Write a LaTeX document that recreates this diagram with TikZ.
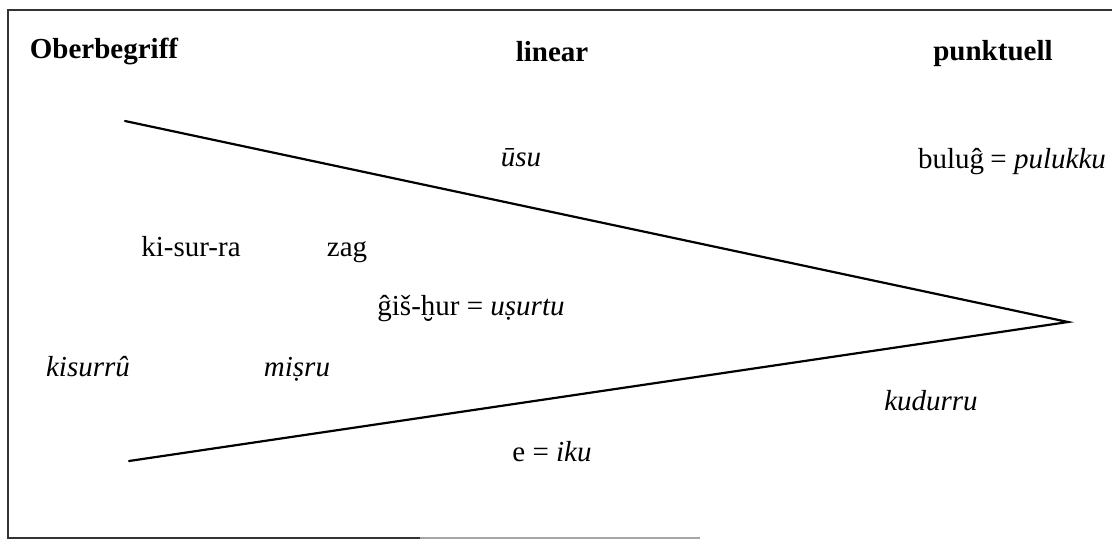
\documentclass[tikz,border=0pt]{standalone}
\usepackage{fontspec}
\setmainfont{Liberation Serif}
\begin{document}
\begin{tikzpicture}[x=1pt,y=-1pt,
  lbl/.style={inner sep=0pt, anchor=base, font=\fontsize{29}{34}\selectfont},
  head/.style={lbl, font=\fontsize{29}{34}\selectfont\bfseries},
  edge/.style={line width=2.2pt, line cap=round}]
\useasboundingbox (0,0) rectangle (1112,544);
% frame
\coordinate (fTL) at (8,10);
\coordinate (fTR) at (1112,10);
\coordinate (fBL) at (8,538);
\coordinate (fBM) at (420,538);
\coordinate (fBR) at (700,538);
\draw[line width=1.6pt, black!80] (fTR) -- (fTL) -- (fBL) -- (fBM);
\draw[line width=1.4pt, black!35] (fBM) -- (fBR);
% wedge
\coordinate (apex) at (1068,322);
\coordinate (up) at (125,121);
\coordinate (lo) at (129,461);
\draw[edge] (up) -- (apex) -- (lo);
% headings
\node[head] (ober) at (104,58) {Oberbegriff};
\node[head] (lin) at (552,61) {linear};
\node[head] (punkt) at (993,60) {punktuell};
% labels
\node[lbl] (usu) at (521,166) {\itshape ūsu};
\node[lbl] (bul) at (1012,168) {buluĝ\kern-1pt{} = \textit{pulukku}};
\node[lbl] (ki) at (191,256) {ki-sur-ra};
\node[lbl] (zag) at (347,256) {zag};
\node[lbl] (gis) at (471,315) {ĝiš-ḫur = \textit{uṣurtu}};
\node[lbl] (kis) at (88,376) {\itshape kisurrû};
\node[lbl] (mis) at (297,376) {\itshape miṣru};
\node[lbl] (kud) at (931,410) {\itshape kudurru};
\node[lbl] (iku) at (552,461) {e = \textit{iku}};
\end{tikzpicture}
\end{document}
